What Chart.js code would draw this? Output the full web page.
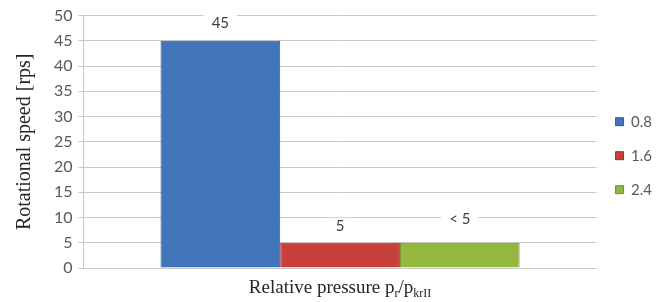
<!DOCTYPE html>
<html>
<head>
<meta charset="utf-8">
<script src="https://cdn.jsdelivr.net/npm/chart.js@4"></script>
<style>
  html, body { margin: 0; padding: 0; background: #fff; }
  #wrap { width: 670px; height: 302px; }
</style>
</head>
<body>
<div id="wrap"><canvas id="grafico"></canvas></div>
<script>
// data
var categorias = [''];
var series = ['0.8', '1.6', '2.4'];
var velocidades = [45, 5, 5];
var rotulos = ['45', '5', '< 5'];
var cores = ['#4274ba', '#c8403e', '#93b73f'];
var bordas = ['#2f5a95', '#9a2e2c', '#6f8f2a'];
var yTicks = [0, 5, 10, 15, 20, 25, 30, 35, 40, 45, 50];

// data labels with a white box behind them (like Excel)
var rotuloPlugin = {
  id: 'rotulos',
  afterDatasetsDraw: function(chart) {
    var ctx = chart.ctx;
    var lift = [18, 17, 24];
    ctx.save();
    ctx.font = '15px Lato';
    ctx.textAlign = 'center';
    ctx.textBaseline = 'middle';
    chart.data.datasets.forEach(function(ds, i) {
      var bar = chart.getDatasetMeta(i).data[0];
      var y = bar.y - lift[i];
      var w = ctx.measureText(rotulos[i]).width + 16;
      ctx.fillStyle = '#fff';
      ctx.fillRect(bar.x - w / 2, y - 8, w, 16);
      ctx.fillStyle = '#404040';
      ctx.fillText(rotulos[i], bar.x, y);
    });
    ctx.restore();
  }
};

// x axis title with subscripts
var tituloX = {
  id: 'tituloX',
  afterDraw: function(chart) {
    var ctx = chart.ctx;
    var partes = [
      ['Relative pressure p', 19, 0],
      ['r', 12, 4],
      ['/p', 19, 0],
      ['krII', 12, 4]
    ];
    ctx.save();
    ctx.fillStyle = '#262626';
    ctx.textBaseline = 'alphabetic';
    var total = 0;
    partes.forEach(function(p) {
      ctx.font = p[1] + 'px "Liberation Serif"';
      total += ctx.measureText(p[0]).width;
    });
    var x = (chart.chartArea.left + chart.chartArea.right) / 2 - total / 2;
    var y = 293;
    partes.forEach(function(p) {
      ctx.font = p[1] + 'px "Liberation Serif"';
      ctx.textAlign = 'left';
      ctx.fillText(p[0], x, y + p[2]);
      x += ctx.measureText(p[0]).width;
    });
    ctx.restore();
  }
};

var datasets = series.map(function(s, i) {
  return {
    label: s,
    data: [velocidades[i]],
    backgroundColor: cores[i],
    borderColor: bordas[i],
    borderWidth: 1
  };
});

new Chart(document.getElementById('grafico'), {
  type: 'bar',
  data: { labels: categorias, datasets: datasets },
  plugins: [rotuloPlugin, tituloX],
  options: {
    responsive: true,
    maintainAspectRatio: false,
    animation: false,
    layout: { padding: { top: 15, left: 13, bottom: 26, right: 8 } },
    datasets: { bar: { categoryPercentage: 0.7, barPercentage: 1 } },
    plugins: {
      legend: {
        position: 'right',
        // empty title only pushes the items down a little
        title: { display: true, text: ' ', padding: 3, font: { size: 12 } },
        labels: {
          boxWidth: 8, boxHeight: 8, padding: 19,
          color: '#595959',
          font: { family: 'Lato', size: 15 }
        }
      },
      tooltip: { enabled: false }
    },
    scales: {
      x: {
        grid: { display: false },
        border: { display: false },
        ticks: { display: false }
      },
      y: {
        min: 0, max: 50,
        afterBuildTicks: function(axis) {
          axis.ticks = yTicks.map(function(v) { return { value: v }; });
        },
        grid: { color: '#c8c8c8', tickLength: 5 },
        border: { display: true, color: '#c8c8c8' },
        ticks: { color: '#595959', padding: 6, font: { family: 'Lato', size: 16 } },
        title: {
          display: true,
          text: 'Rotational speed [rps]',
          color: '#262626',
          padding: { top: 0, bottom: 11 },
          font: { family: 'Liberation Serif', size: 20 }
        }
      }
    }
  }
});
</script>
</body>
</html>
